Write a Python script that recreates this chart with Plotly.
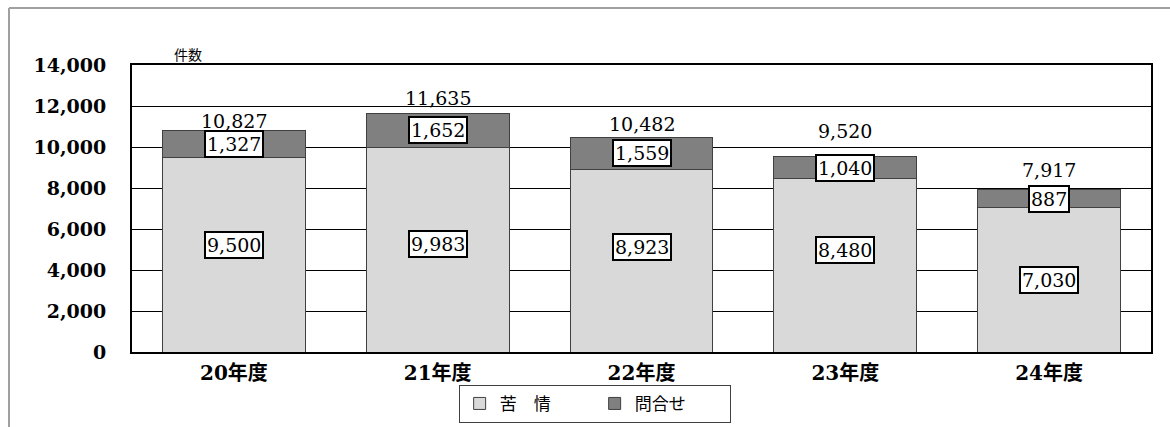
import plotly.graph_objects as go

# 年度別の苦情・問合せ件数
years = ["20年度", "21年度", "22年度", "23年度", "24年度"]
complaints = [9500, 9983, 8923, 8480, 7030]   # 苦情
inquiries = [1327, 1652, 1559, 1040, 887]     # 問合せ
totals = [c + i for c, i in zip(complaints, inquiries)]

# label anchor heights (axis units)
complaint_label_y = [5200, 5250, 5100, 5000, 3500]
total_label_y = [11260, 12400, 11130, 10770, 8900]

NUM_FONT = "DejaVu Serif, Noto Sans CJK JP"
JP_FONT = "Noto Sans CJK JP, sans-serif"

fig = go.Figure()
fig.add_trace(go.Bar(
    x=years, y=complaints, name="苦\u3000情",
    marker=dict(color="#d9d9d9", line=dict(color="#404040", width=1)),
    width=0.7,
))
fig.add_trace(go.Bar(
    x=years, y=inquiries, name="問合せ",
    marker=dict(color="#808080", line=dict(color="#404040", width=1)),
    width=0.7,
))

box_font = dict(family=NUM_FONT, size=19, color="black")
annotations = []
for i, yr in enumerate(years):
    annotations.append(dict(
        x=yr, y=complaint_label_y[i], text=f"{complaints[i]:,}", showarrow=False,
        font=box_font, bgcolor="white", bordercolor="black", borderwidth=2, borderpad=1,
    ))
    annotations.append(dict(
        x=yr, y=complaints[i] + inquiries[i] / 2, text=f"{inquiries[i]:,}", showarrow=False,
        font=box_font, bgcolor="white", bordercolor="black", borderwidth=2, borderpad=1,
    ))
    annotations.append(dict(
        x=yr, y=total_label_y[i], text=f"{totals[i]:,}", showarrow=False,
        font=dict(family=NUM_FONT, size=19, color="black"),
    ))

annotations.append(dict(
    xref="paper", yref="paper", x=0.039, y=1.08, text="件数", showarrow=False,
    font=dict(family=JP_FONT, size=14, color="black"),
))

# outer frame (left and top edges)
shapes = [
    dict(type="line", xref="paper", yref="paper", x0=-0.1207, x1=1.1, y0=1.1986, y1=1.1986,
         line=dict(color="#a0a0a0", width=2)),
    dict(type="line", xref="paper", yref="paper", x0=-0.1207, x1=-0.1207, y0=1.1986, y1=-0.3,
         line=dict(color="#a0a0a0", width=2)),
]

fig.update_layout(
    barmode="stack",
    width=1170, height=427,
    margin=dict(l=132, r=19, t=65, b=75, autoexpand=False),
    paper_bgcolor="white", plot_bgcolor="white",
    showlegend=True,
    legend=dict(
        orientation="h", x=0.454, y=-0.247, xanchor="center", yanchor="bottom",
        bordercolor="#404040", borderwidth=1,
        font=dict(family=JP_FONT, size=17, color="black"),
        traceorder="normal", itemwidth=30, entrywidth=90, tracegroupgap=0,
    ),
    annotations=annotations,
    shapes=shapes,
)
fig.update_yaxes(
    range=[0, 14000], dtick=2000, tickformat=",",
    showgrid=True, gridcolor="black", gridwidth=1,
    showline=True, linecolor="black", linewidth=2, mirror=True,
    zeroline=False, ticks="", ticklabelstandoff=20,
    tickfont=dict(family=NUM_FONT, size=19, color="black", weight="bold"),
)
fig.update_xaxes(
    showline=True, linecolor="black", linewidth=1.5, mirror=True,
    ticks="", ticklabelstandoff=2,
    tickfont=dict(family=NUM_FONT, size=20, color="black", weight="bold"),
)

fig.write_html("out.html")
